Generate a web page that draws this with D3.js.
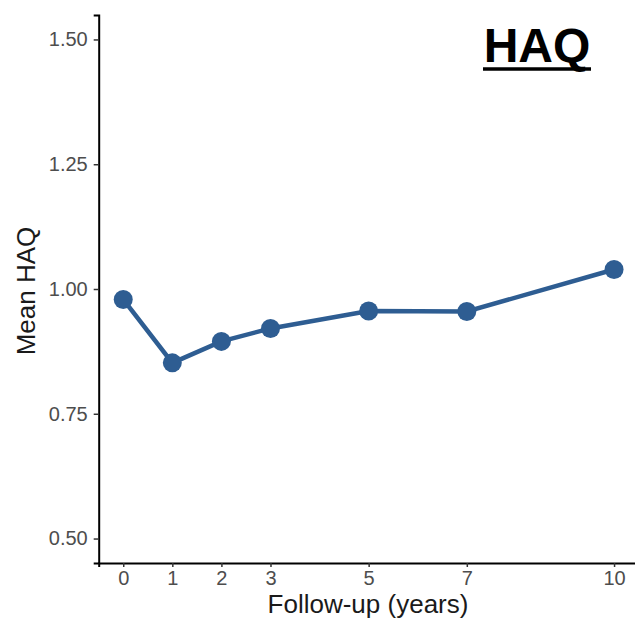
<!DOCTYPE html>
<html>
<head>
<meta charset="utf-8">
<script src="https://cdn.jsdelivr.net/npm/d3@7"></script>
<style>
  body { margin: 0; background: #fff; }
  text { font-family: "Liberation Sans", Arial, sans-serif; }
</style>
</head>
<body>
<div id="chart"></div>
<script>
var svgWidth = 635;
var svgHeight = 626;

// data
var years = [0, 1, 2, 3, 5, 7, 10];
var meanHaq = [0.979, 0.852, 0.895, 0.921, 0.956, 0.955, 1.039];
var yTicks = [0.50, 0.75, 1.00, 1.25, 1.50];

var svg = d3.select("#chart")
  .append("svg")
  .attr("width", svgWidth)
  .attr("height", svgHeight);

var xScale = d3.scaleLinear()
  .domain([-0.5, 10.5])
  .range([98.7, 638.6]);

var yScale = d3.scaleLinear()
  .domain([0.451, 1.549])
  .range([563, 15]);

// axes
var leftAxis = d3.axisLeft(yScale)
  .tickValues(yTicks)
  .tickFormat(d3.format(".2f"))
  .tickSize(5)
  .tickPadding(6);

var bottomAxis = d3.axisBottom(xScale)
  .tickValues(years)
  .tickSize(4)
  .tickPadding(4);

var yAxis = svg.append("g")
  .attr("transform", `translate(${xScale(-0.5)}, 0)`)
  .call(leftAxis);

var xAxis = svg.append("g")
  .attr("transform", `translate(0, ${yScale(0.451)})`)
  .call(bottomAxis);

[xAxis, yAxis].forEach(function(ax) {
  ax.attr("font-size", null).attr("font-family", null);
  ax.select(".domain").attr("stroke", "#000").attr("stroke-width", 2);
  ax.selectAll(".tick line").attr("stroke", "#333").attr("stroke-width", 1.5);
  ax.selectAll(".tick text")
    .attr("fill", "#4d4d4d")
    .style("font-size", "20px");
});

// line + points
var pts = years.map((y, i) => ({ x: y, v: meanHaq[i] }));

var line = d3.line()
  .x(d => xScale(d.x))
  .y(d => yScale(d.v));

svg.append("path")
  .datum(pts)
  .attr("d", line)
  .attr("fill", "none")
  .attr("stroke", "#2e5d92")
  .attr("stroke-width", 4.5);

svg.selectAll("circle")
  .data(pts)
  .enter()
  .append("circle")
  .attr("cx", d => xScale(d.x))
  .attr("cy", d => yScale(d.v))
  .attr("r", 9.5)
  .attr("fill", "#2e5d92");

// axis labels
svg.append("text")
  .attr("x", 368)
  .attr("y", 613)
  .attr("text-anchor", "middle")
  .attr("fill", "#1a1a1a")
  .style("font-size", "26px")
  .text("Follow-up (years)");

svg.append("text")
  .attr("transform", "rotate(-90)")
  .attr("x", -291)
  .attr("y", 35)
  .attr("text-anchor", "middle")
  .attr("fill", "#1a1a1a")
  .style("font-size", "26px")
  .text("Mean HAQ");

// title, underlined
svg.append("text")
  .attr("x", 537)
  .attr("y", 62)
  .attr("text-anchor", "middle")
  .attr("fill", "#000")
  .style("font-size", "48px")
  .style("font-weight", "bold")
  .text("HAQ");

svg.append("line")
  .attr("x1", 483)
  .attr("x2", 591)
  .attr("y1", 69)
  .attr("y2", 69)
  .attr("stroke", "#000")
  .attr("stroke-width", 3.5);
</script>
</body>
</html>
